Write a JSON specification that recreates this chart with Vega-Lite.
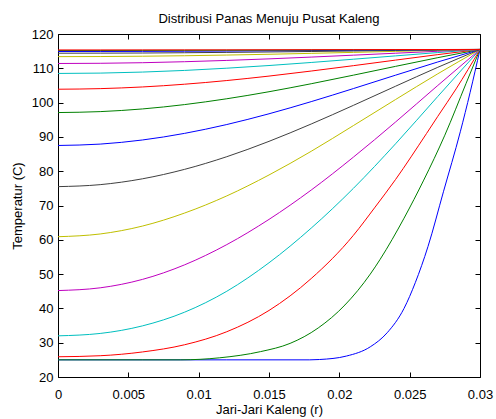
{
  "$schema": "https://vega.github.io/schema/vega-lite/v6.json",
  "width": 422,
  "height": 343,
  "autosize": {"type": "none"},
  "padding": {"left": 58, "top": 34, "right": 16, "bottom": 42},
  "background": "white",
  "config": {
    "view": {"stroke": "#000", "strokeWidth": 1},
    "font": "Liberation Sans, Arial",
    "axis": {
      "domain": false, "grid": false, "tickColor": "#000", "tickSize": -5,
      "labelColor": "#000", "labelFontSize": 13, "labelFont": "Liberation Sans, Arial",
      "titleFont": "Liberation Sans, Arial", "titleFontSize": 13,
      "titleFontWeight": "normal", "titleColor": "#000", "labelFlush": false, "labelOverlap": false
    }
  },
  "title": {"text": "Distribusi Panas Menuju Pusat Kaleng", "fontSize": 13, "fontWeight": "normal", "font": "Liberation Sans, Arial", "color": "#000", "offset": 2, "anchor": "middle"},
  "data": {"values": [
    {"c":1,"r":0,"T":25},{"c":1,"r":0.006,"T":25},{"c":1,"r":0.012,"T":25},{"c":1,"r":0.0179,"T":25},{"c":1,"r":0.0186,"T":25.1},{"c":1,"r":0.0205,"T":26.1},{"c":1,"r":0.0222,"T":28.8},{"c":1,"r":0.0234,"T":32.9},{"c":1,"r":0.0246,"T":40.0},{"c":1,"r":0.0254,"T":47.5},{"c":1,"r":0.0263,"T":58.0},{"c":1,"r":0.0274,"T":74.0},{"c":1,"r":0.0286,"T":91.5},{"c":1,"r":0.0293,"T":103.0},{"c":1,"r":0.03,"T":115.5},
    {"c":2,"r":0,"T":25},{"c":2,"r":0.0087,"T":25.0},{"c":2,"r":0.0115,"T":25.6},{"c":2,"r":0.0144,"T":27.4},{"c":2,"r":0.0165,"T":29.8},{"c":2,"r":0.0185,"T":34.3},{"c":2,"r":0.0204,"T":41.0},{"c":2,"r":0.0222,"T":50.0},{"c":2,"r":0.0229,"T":54.3},{"c":2,"r":0.0246,"T":66.3},{"c":2,"r":0.026,"T":77.4},{"c":2,"r":0.0275,"T":90.5},{"c":2,"r":0.029,"T":105.5},{"c":2,"r":0.03,"T":115.5},
    {"c":3,"r":0,"T":25.9},{"c":3,"r":0.003,"T":26.2},{"c":3,"r":0.006,"T":27.3},{"c":3,"r":0.009,"T":29.4},{"c":3,"r":0.012,"T":33.2},{"c":3,"r":0.015,"T":39.4},{"c":3,"r":0.018,"T":48.7},{"c":3,"r":0.021,"T":61.3},{"c":3,"r":0.0225,"T":69.3},{"c":3,"r":0.024,"T":77.6},{"c":3,"r":0.0262,"T":91.0},{"c":3,"r":0.027,"T":96.0},{"c":3,"r":0.0283,"T":104.0},{"c":3,"r":0.03,"T":115.5},
    {"c":4,"r":0,"T":32.0},{"c":4,"r":0.003,"T":32.7},{"c":4,"r":0.006,"T":34.9},{"c":4,"r":0.009,"T":38.9},{"c":4,"r":0.012,"T":45.0},{"c":4,"r":0.015,"T":53.3},{"c":4,"r":0.018,"T":63.4},{"c":4,"r":0.021,"T":75.0},{"c":4,"r":0.024,"T":88.0},{"c":4,"r":0.027,"T":101.8},{"c":4,"r":0.03,"T":115.5},
    {"c":5,"r":0,"T":45.2},{"c":5,"r":0.003,"T":46.0},{"c":5,"r":0.006,"T":48.45},{"c":5,"r":0.009,"T":52.7},{"c":5,"r":0.012,"T":58.6},{"c":5,"r":0.015,"T":65.95},{"c":5,"r":0.018,"T":74.5},{"c":5,"r":0.021,"T":84.1},{"c":5,"r":0.024,"T":94.35},{"c":5,"r":0.027,"T":105.0},{"c":5,"r":0.03,"T":115.5},
    {"c":6,"r":0,"T":60.9},{"c":6,"r":0.003,"T":61.7},{"c":6,"r":0.006,"T":64.0},{"c":6,"r":0.009,"T":67.8},{"c":6,"r":0.012,"T":72.8},{"c":6,"r":0.015,"T":78.9},{"c":6,"r":0.018,"T":85.8},{"c":6,"r":0.021,"T":93.3},{"c":6,"r":0.024,"T":100.9},{"c":6,"r":0.027,"T":108.4},{"c":6,"r":0.03,"T":115.5},
    {"c":7,"r":0,"T":75.5},{"c":7,"r":0.003,"T":76.08},{"c":7,"r":0.006,"T":77.78},{"c":7,"r":0.009,"T":80.54},{"c":7,"r":0.012,"T":84.23},{"c":7,"r":0.015,"T":88.70},{"c":7,"r":0.018,"T":93.76},{"c":7,"r":0.021,"T":99.20},{"c":7,"r":0.024,"T":104.78},{"c":7,"r":0.027,"T":110.29},{"c":7,"r":0.03,"T":115.5},
    {"c":8,"r":0,"T":87.5},{"c":8,"r":0.003,"T":87.90},{"c":8,"r":0.006,"T":89.10},{"c":8,"r":0.009,"T":91.03},{"c":8,"r":0.012,"T":93.61},{"c":8,"r":0.015,"T":96.74},{"c":8,"r":0.018,"T":100.28},{"c":8,"r":0.021,"T":104.09},{"c":8,"r":0.024,"T":108.00},{"c":8,"r":0.027,"T":111.85},{"c":8,"r":0.03,"T":115.5},
    {"c":9,"r":0,"T":97.1},{"c":9,"r":0.003,"T":97.37},{"c":9,"r":0.006,"T":98.15},{"c":9,"r":0.009,"T":99.42},{"c":9,"r":0.012,"T":101.12},{"c":9,"r":0.015,"T":103.17},{"c":9,"r":0.018,"T":105.50},{"c":9,"r":0.021,"T":108.00},{"c":9,"r":0.024,"T":110.57},{"c":9,"r":0.027,"T":113.10},{"c":9,"r":0.03,"T":115.5},
    {"c":10,"r":0,"T":103.9},{"c":10,"r":0.003,"T":104.07},{"c":10,"r":0.006,"T":104.56},{"c":10,"r":0.009,"T":105.36},{"c":10,"r":0.012,"T":106.43},{"c":10,"r":0.015,"T":107.73},{"c":10,"r":0.018,"T":109.20},{"c":10,"r":0.021,"T":110.77},{"c":10,"r":0.024,"T":112.39},{"c":10,"r":0.027,"T":113.99},{"c":10,"r":0.03,"T":115.5},
    {"c":11,"r":0,"T":108.5},{"c":11,"r":0.003,"T":108.60},{"c":11,"r":0.006,"T":108.90},{"c":11,"r":0.009,"T":109.38},{"c":11,"r":0.012,"T":110.03},{"c":11,"r":0.015,"T":110.81},{"c":11,"r":0.018,"T":111.70},{"c":11,"r":0.021,"T":112.65},{"c":11,"r":0.024,"T":113.62},{"c":11,"r":0.027,"T":114.59},{"c":11,"r":0.03,"T":115.5},
    {"c":12,"r":0,"T":111.4},{"c":12,"r":0.003,"T":111.46},{"c":12,"r":0.006,"T":111.63},{"c":12,"r":0.009,"T":111.92},{"c":12,"r":0.012,"T":112.30},{"c":12,"r":0.015,"T":112.75},{"c":12,"r":0.018,"T":113.27},{"c":12,"r":0.021,"T":113.83},{"c":12,"r":0.024,"T":114.40},{"c":12,"r":0.027,"T":114.97},{"c":12,"r":0.03,"T":115.5},
    {"c":13,"r":0,"T":113.4},{"c":13,"r":0.003,"T":113.43},{"c":13,"r":0.006,"T":113.52},{"c":13,"r":0.009,"T":113.66},{"c":13,"r":0.012,"T":113.86},{"c":13,"r":0.015,"T":114.09},{"c":13,"r":0.018,"T":114.36},{"c":13,"r":0.021,"T":114.64},{"c":13,"r":0.024,"T":114.94},{"c":13,"r":0.027,"T":115.23},{"c":13,"r":0.03,"T":115.5},
    {"c":14,"r":0,"T":114.4},{"c":14,"r":0.003,"T":114.42},{"c":14,"r":0.006,"T":114.46},{"c":14,"r":0.009,"T":114.54},{"c":14,"r":0.012,"T":114.64},{"c":14,"r":0.015,"T":114.76},{"c":14,"r":0.018,"T":114.90},{"c":14,"r":0.021,"T":115.05},{"c":14,"r":0.024,"T":115.21},{"c":14,"r":0.027,"T":115.36},{"c":14,"r":0.03,"T":115.5},
    {"c":15,"r":0,"T":114.9},{"c":15,"r":0.003,"T":114.91},{"c":15,"r":0.006,"T":114.93},{"c":15,"r":0.009,"T":114.98},{"c":15,"r":0.012,"T":115.03},{"c":15,"r":0.015,"T":115.10},{"c":15,"r":0.018,"T":115.17},{"c":15,"r":0.021,"T":115.26},{"c":15,"r":0.024,"T":115.34},{"c":15,"r":0.027,"T":115.42},{"c":15,"r":0.03,"T":115.5},
    {"c":16,"r":0,"T":115.2},{"c":16,"r":0.003,"T":115.20},{"c":16,"r":0.006,"T":115.22},{"c":16,"r":0.009,"T":115.24},{"c":16,"r":0.012,"T":115.27},{"c":16,"r":0.015,"T":115.30},{"c":16,"r":0.018,"T":115.34},{"c":16,"r":0.021,"T":115.38},{"c":16,"r":0.024,"T":115.42},{"c":16,"r":0.027,"T":115.46},{"c":16,"r":0.03,"T":115.5},
    {"c":17,"r":0,"T":115.35},{"c":17,"r":0.003,"T":115.35},{"c":17,"r":0.006,"T":115.36},{"c":17,"r":0.009,"T":115.37},{"c":17,"r":0.012,"T":115.38},{"c":17,"r":0.015,"T":115.40},{"c":17,"r":0.018,"T":115.42},{"c":17,"r":0.021,"T":115.44},{"c":17,"r":0.024,"T":115.46},{"c":17,"r":0.027,"T":115.48},{"c":17,"r":0.03,"T":115.5}
  ]},
  "layer": [
    {
      "mark": {"type": "line", "interpolate": "monotone", "strokeWidth": 1, "clip": true},
      "encoding": {
        "x": {"field": "r", "type": "quantitative", "scale": {"domain": [0, 0.03], "nice": false, "zero": false},
              "axis": {"values": [0, 0.005, 0.01, 0.015, 0.02, 0.025, 0.03], "format": "~g", "labelPadding": 16, "title": "Jari-Jari Kaleng (r)", "titlePadding": 2}},
        "y": {"field": "T", "type": "quantitative", "scale": {"domain": [20, 120], "nice": false, "zero": false},
              "axis": {"values": [20, 30, 40, 50, 60, 70, 80, 90, 100, 110, 120], "labelPadding": 10, "title": "Temperatur (C)", "titlePadding": 7}},
        "color": {"field": "c", "type": "nominal", "legend": null,
                  "scale": {"domain": [1,2,3,4,5,6,7,8,9,10,11,12,13,14,15,16,17],
                            "range": ["#0000FF","#008000","#FF0000","#00BFBF","#BF00BF","#BFBF00","#404040","#0000FF","#008000","#FF0000","#00BFBF","#BF00BF","#BFBF00","#404040","#0000FF","#008000","#FF0000"]}}
      }
    },
    {
      "mark": {"type": "line", "opacity": 0},
      "encoding": {
        "x": {"field": "r", "type": "quantitative", "scale": {"domain": [0, 0.03], "nice": false, "zero": false},
              "axis": {"orient": "top", "values": [0, 0.005, 0.01, 0.015, 0.02, 0.025, 0.03], "labels": false, "title": null}},
        "y": {"field": "T", "type": "quantitative", "scale": {"domain": [20, 120], "nice": false, "zero": false},
              "axis": {"orient": "right", "values": [20, 30, 40, 50, 60, 70, 80, 90, 100, 110, 120], "labels": false, "title": null}},
        "detail": {"field": "c", "type": "nominal"}
      }
    }
  ],
  "resolve": {"axis": {"x": "independent", "y": "independent"}}
}
